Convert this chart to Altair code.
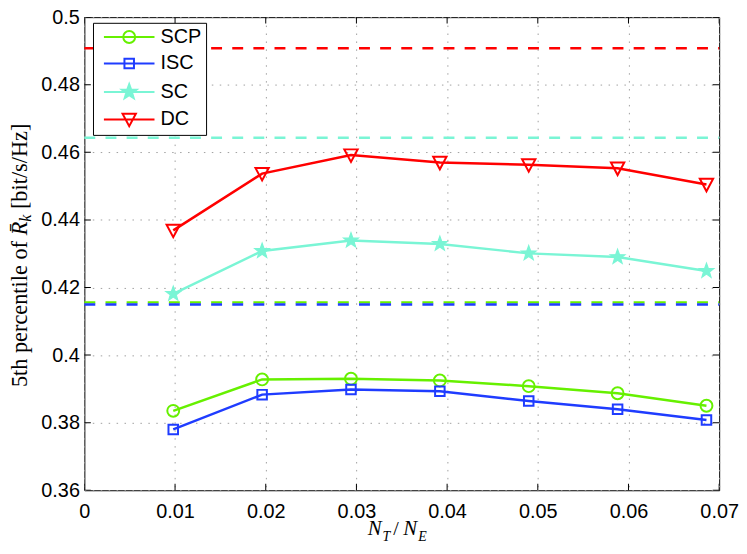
import math
import altair as alt
import pandas as pd

# ---------------- data ----------------
series_names = ["SCP", "ISC", "SC", "DC"]
series_colors = ["#66f000", "#1f3cff", "#7af5d5", "#ff0000"]

x_vals = [0.0098, 0.0196, 0.0294, 0.0392, 0.0490, 0.0588, 0.0686]
scp_vals = [0.3835, 0.3928, 0.3930, 0.3925, 0.3908, 0.3887, 0.3850]
isc_vals = [0.3780, 0.3883, 0.3898, 0.3893, 0.3864, 0.3840, 0.3808]
sc_vals = [0.4181, 0.4308, 0.4339, 0.4329, 0.4301, 0.4290, 0.4249]
dc_vals = [0.4369, 0.4537, 0.4592, 0.4570, 0.4563, 0.4553, 0.4505]

ref_levels = [0.4156, 0.4150, 0.4643, 0.4908]

x_ticks = [0, 0.01, 0.02, 0.03, 0.04, 0.05, 0.06, 0.07]
y_ticks = [0.36, 0.38, 0.40, 0.42, 0.44, 0.46, 0.48, 0.50]
X_DOMAIN = [0, 0.07]
Y_DOMAIN = [0.36, 0.50]

rows = []
for name, vals in zip(series_names, [scp_vals, isc_vals, sc_vals, dc_vals]):
    for xv, yv in zip(x_vals, vals):
        rows.append({"series": name, "x": xv, "y": yv})
df = pd.DataFrame(rows)

ref_df = pd.DataFrame({"series": series_names, "level": ref_levels,
                       "x0": X_DOMAIN[0], "x1": X_DOMAIN[1]})

xtick_df = pd.DataFrame([{"t": t, "edge": e} for t in x_ticks for e in Y_DOMAIN])
ytick_df = pd.DataFrame([{"t": t, "edge": e} for t in y_ticks for e in X_DOMAIN])

legend_df = pd.DataFrame({"series": series_names, "x": [None] * 4, "y": [None] * 4})


# ---------------- marker shapes (Vega custom path units: -1..1 = sqrt(size)) ----------------
def fmt(v):
    return f"{v:.3f}"


def marker_path(kind, cx=0.0):
    if kind == "circle":
        r = 1.0
        return (f"M{fmt(cx + r)},0A{r},{r} 0 1,1 {fmt(cx - r)},0"
                f"A{r},{r} 0 1,1 {fmt(cx + r)},0Z")
    if kind == "square":
        h = 0.80
        return (f"M{fmt(cx - h)},{-h}H{fmt(cx + h)}V{h}H{fmt(cx - h)}Z")
    if kind == "star":
        pts = []
        for i in range(10):
            ang = math.radians(-90 + 36 * i)
            r = 1.3 if i % 2 == 0 else 0.53
            pts.append(f"{fmt(cx + r * math.cos(ang))},{fmt(r * math.sin(ang))}")
        return "M" + "L".join(pts) + "Z"
    if kind == "tri":
        return (f"M{fmt(cx - 1.12)},-0.95L{fmt(cx + 1.12)},-0.95L{fmt(cx)},1.15Z")


kinds = ["circle", "square", "star", "tri"]
MC = 3.7
legend_paths = ["M-0.55,0H7.95" + marker_path(k, MC) for k in kinds]

# ---------------- scales / axes ----------------
xs = alt.Scale(domain=X_DOMAIN, nice=False, zero=False)
ys = alt.Scale(domain=Y_DOMAIN, nice=False, zero=False)
cs = alt.Scale(domain=series_names, range=series_colors)
fs = alt.Scale(domain=series_names,
               range=["transparent", "transparent", series_colors[2], "transparent"])

GRID_DASH = [1.5, 6.5]
GRID_COLOR = "#a0a0a0"
x_axis = alt.Axis(values=x_ticks, format=".2~f", grid=True, gridDash=GRID_DASH,
                  gridColor=GRID_COLOR, gridWidth=1, ticks=False, domain=False,
                  labelFont="Liberation Sans", labelFontSize=20, labelColor="black",
                  labelPadding=11, labelFlush=False, labelOverlap=False, title=None)
y_axis = alt.Axis(values=y_ticks, format=".2~f", grid=True, gridDash=GRID_DASH,
                  gridColor=GRID_COLOR, gridWidth=1, ticks=False, domain=False,
                  labelFont="Liberation Sans", labelFontSize=20, labelColor="black",
                  labelPadding=5, labelFlush=False, labelOverlap=False, title=None)

leg = alt.Legend(orient="none", legendX=8.7, legendY=5.7, title=None, padding=4.3,
                 rowPadding=6.7, labelFont="Liberation Sans", labelFontSize=20,
                 labelColor="black", labelOffset=43.7, symbolSize=144,
                 symbolStrokeWidth=2, strokeColor="black", fillColor="white",
                 labelLimit=300, cornerRadius=0, direction="vertical",
                 labelExpr="datum.label + ' '")

X = lambda f: alt.X(f, scale=xs, axis=x_axis)
Y = lambda f: alt.Y(f, scale=ys, axis=y_axis)
C = alt.Color("series:N", scale=cs, legend=leg)

# ---------------- layers ----------------
rules = alt.Chart(ref_df).mark_rule(strokeWidth=2.5, strokeDash=[11, 10.3]).encode(
    x=X("x0:Q"), x2="x1:Q", y=Y("level:Q"), color=C)

lines = alt.Chart(df).mark_line(strokeWidth=2.5).encode(
    x=X("x:Q"), y=Y("y:Q"), color=C)

marker_layers = []
for name, kind, col in zip(series_names, kinds, series_colors):
    base = alt.Chart(df).transform_filter(alt.datum.series == name)
    if kind == "star":
        mk = base.mark_point(shape=marker_path(kind), size=144, filled=True, opacity=1,
                             fill=col, stroke=col, strokeWidth=1.2)
    else:
        mk = base.mark_point(shape=marker_path(kind), size=144, filled=False, opacity=1,
                             stroke=col, fill="transparent", strokeWidth=2)
    marker_layers.append(mk.encode(x=X("x:Q"), y=Y("y:Q")))

xticks = alt.Chart(xtick_df).mark_tick(orient="vertical", size=13, thickness=1,
                                       color="black", opacity=1, clip=True).encode(
    x=X("t:Q"), y=Y("edge:Q"))
yticks = alt.Chart(ytick_df).mark_tick(orient="horizontal", size=13, thickness=1,
                                       color="black", opacity=1, clip=True).encode(
    x=X("edge:Q"), y=Y("t:Q"))

legend_layer = alt.Chart(legend_df).mark_point(size=144, filled=False, opacity=1,
                                               strokeWidth=2).encode(
    x=X("x:Q"), y=Y("y:Q"), color=C,
    fill=alt.Fill("series:N", scale=fs, legend=leg),
    shape=alt.Shape("series:N", scale=alt.Scale(domain=series_names, range=legend_paths),
                    legend=leg),
)

# ---------------- axis titles as text ----------------
one = pd.DataFrame({"a": [0]})


def piece(txt, x, y, size, italic=False, angle=0):
    kw = dict(font="Liberation Serif", fontSize=size, align="left",
              baseline="alphabetic", color="black")
    if italic:
        kw["fontStyle"] = "italic"
    if angle:
        kw["angle"] = angle
    return alt.Chart(one).mark_text(**kw).encode(
        x=alt.value(x), y=alt.value(y), text=alt.value(txt))


xt = [
    piece("N", 285.7, 522.5, 21, italic=True),
    piece("T", 300.5, 528, 14, italic=True),
    piece("/", 311.5, 522.5, 20),
    piece("N", 321.5, 522.5, 21, italic=True),
    piece("E", 336.5, 528, 14, italic=True),
]
YB = -57.8
yt = [
    piece("5th percentile of", YB, 373, 22.5, angle=270),
    piece("R\u0304", YB, 220.0, 22.5, italic=True, angle=270),
    piece("k", YB + 4.2, 206.3, 16, italic=True, angle=270),
    piece("[bit/s/Hz]", YB, 193.5, 22.5, angle=270),
]

chart = alt.layer(rules, lines, *marker_layers, xticks, yticks, legend_layer, *xt, *yt).properties(
    width=640, height=477,
    padding={"left": 77, "top": 7, "right": 20, "bottom": 58},
    autosize=alt.AutoSizeParams(type="none"),
).configure_view(stroke="black", strokeWidth=1)

chart.save("out.html", embed_options={"renderer": "svg", "actions": False})
